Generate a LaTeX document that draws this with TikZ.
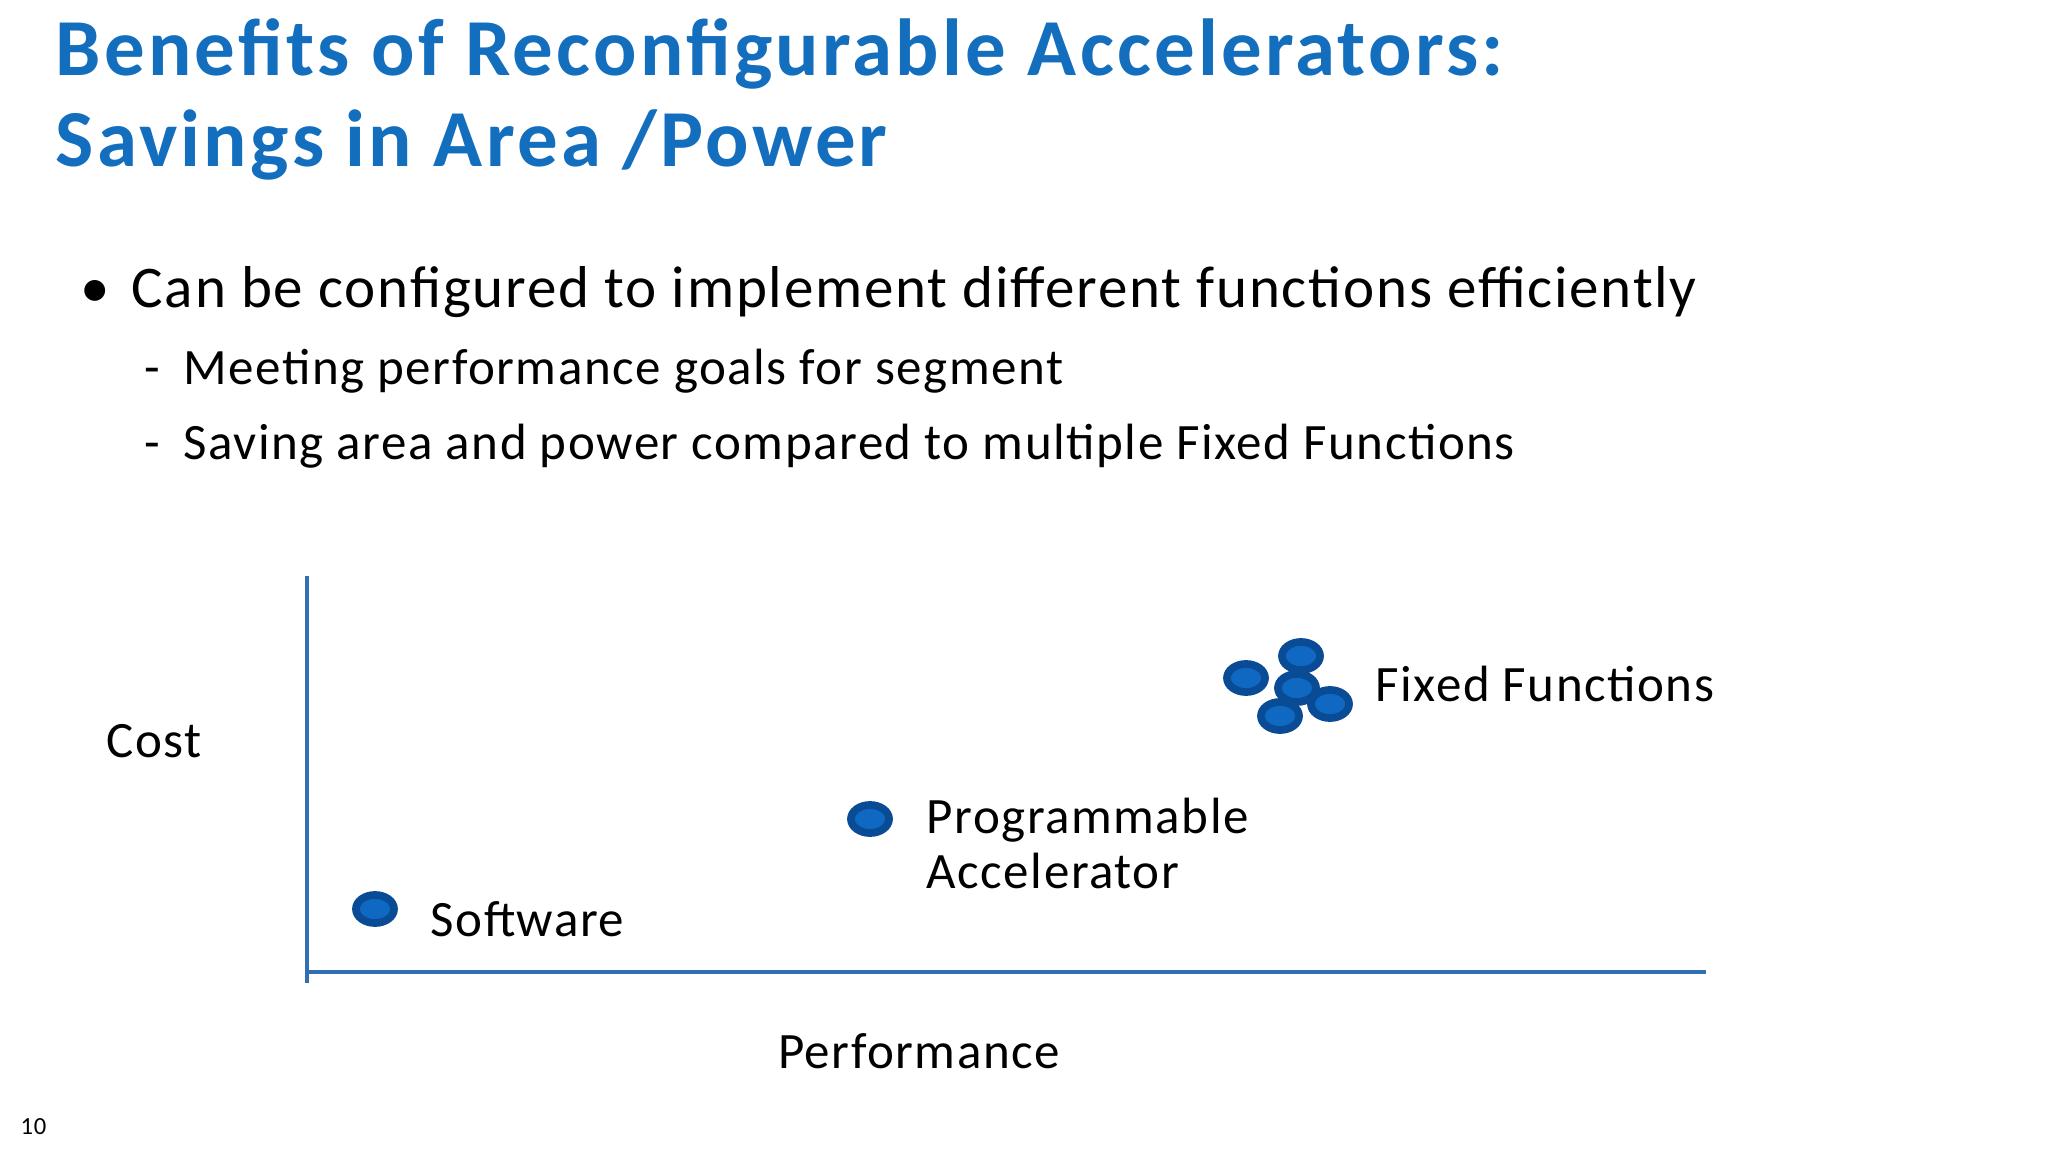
\documentclass[tikz,border=0pt]{standalone}
\usetikzlibrary{shapes.geometric}
\usepackage{fontspec}
\setmainfont{Carlito}[LetterSpace=3]
\newfontfamily\titlefont{Carlito}[LetterSpace=4]
\definecolor{tblue}{RGB}{20,110,190}
\definecolor{dotfill}{RGB}{15,105,195}
\definecolor{dotdraw}{RGB}{10,75,150}
\definecolor{axisc}{RGB}{50,110,180}
\begin{document}
\begin{tikzpicture}[x=0.01cm,y=-0.01cm,
  txt/.style={anchor=base west,inner sep=0,font=\fontsize{14.5}{16}\selectfont},
  dot/.style={ellipse,draw=dotdraw,line width=2.2pt,fill=dotfill,minimum width=0.38cm,minimum height=0.28cm,inner sep=0}]
\useasboundingbox[fill=white] (0,0) rectangle (2048,1152);
\node[anchor=base west,inner sep=0,text=tblue,font=\titlefont\bfseries\fontsize{23}{27}\selectfont] (t1) at (55,76) {Benefits of Reconfigurable Accelerators:};
\node[anchor=base west,inner sep=0,text=tblue,font=\titlefont\bfseries\fontsize{23}{27}\selectfont] (t2) at (55,167) {Savings in Area /Power};
\node[anchor=base west,inner sep=0,font=\fontsize{16.8}{20}\selectfont] (b0) at (80,308) {•};
\node[anchor=base west,inner sep=0,font=\fontsize{16.8}{20}\selectfont] (b1) at (131,308) {Can be configured to implement different functions efficiently};
\node[txt] (d1) at (144,385) {-};
\node[txt] (s1) at (183,385) {Meeting performance goals for segment};
\node[txt] (d2) at (144,460) {-};
\node[txt] (s2) at (183,460) {Saving area and power compared to multiple Fixed Functions};
\coordinate (ytop) at (307,576);
\coordinate (ybot) at (307,983);
\coordinate (xl) at (307,972);
\coordinate (xr) at (1706,972);
\draw[axisc,line width=1.2pt] (ytop) -- (ybot);
\draw[axisc,line width=1.2pt] (xl) -- (xr);
\node[txt] (cost) at (106,757) {Cost};
\node[txt,anchor=base] (perf) at (919,1068) {Performance};
\node[dot] (sw) at (375,909) {};
\node[txt] (swl) at (430,936) {Software};
\node[dot] (pa) at (870,819) {};
\node[txt] (pal1) at (926,833) {Programmable};
\node[txt] (pal2) at (926,888) {Accelerator};
\node[dot] (f1) at (1246,678) {};
\node[dot] (f2) at (1301,656) {};
\node[dot] (f3) at (1297,688) {};
\node[dot] (f4) at (1330,704) {};
\node[dot] (f5) at (1280,716) {};
\node[txt] (ffl) at (1375,701) {Fixed Functions};
\node[anchor=base west,inner sep=0,font=\fontsize{7}{8}\selectfont] (pg) at (20,1134) {10};
\end{tikzpicture}
\end{document}
